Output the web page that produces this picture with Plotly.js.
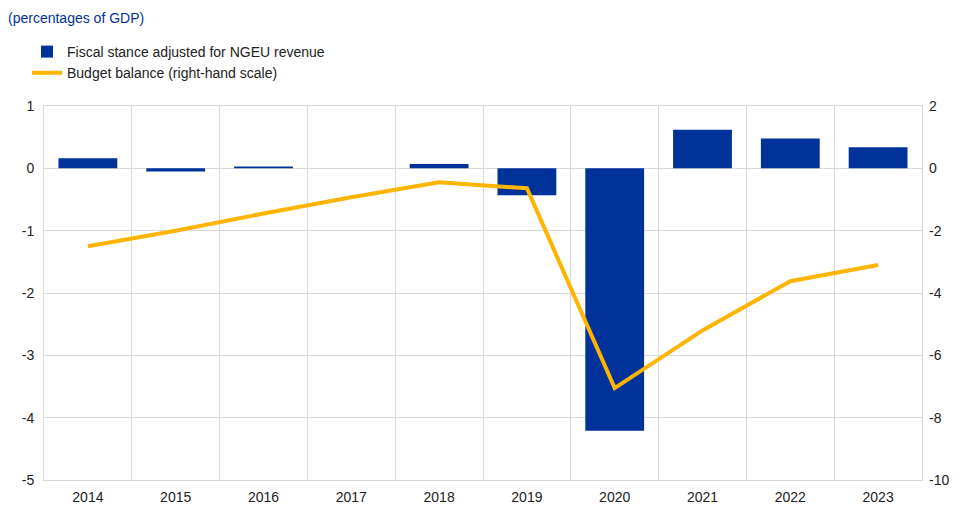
<!DOCTYPE html>
<html>
<head>
<meta charset="utf-8">
<script src="https://cdn.plot.ly/plotly-3.0.1.min.js"></script>
<style>html,body{margin:0;padding:0;background:#fff;}#chart{width:963px;height:507px;}</style>
</head>
<body>
<div id="chart"></div>
<script>
const years = ['2014','2015','2016','2017','2018','2019','2020','2021','2022','2023'];
const fiscalStance = [0.16, -0.05, 0.03, 0.0, 0.07, -0.43, -4.21, 0.62, 0.48, 0.34];
const budgetBalance = [-2.5, -2.0, -1.45, -0.93, -0.45, -0.64, -7.05, -5.2, -3.62, -3.1];
const leftTickVals = [1, 0, -1, -2, -3, -4, -5];
const leftTickText = ['1', '0', '-1', '-2', '-3', '-4', '-5'];
const rightTickVals = [2, 0, -2, -4, -6, -8, -10];
const rightTickText = ['2', '0', '-2', '-4', '-6', '-8', '-10'];

const traces = [
  {
    type: 'bar', x: years, y: fiscalStance, name: 'Fiscal stance adjusted for NGEU revenue',
    marker: {color: '#003299', line: {width: 0}},
    width: 0.67, yaxis: 'y'
  },
  {
    type: 'scatter', mode: 'lines', x: years, y: budgetBalance, name: 'Budget balance (right-hand scale)',
    line: {color: '#FFB400', width: 4}, yaxis: 'y2'
  }
];

const layout = {
  width: 963, height: 507,
  margin: {l: 44, r: 41, t: 106, b: 27, autoexpand: false},
  paper_bgcolor: '#fff', plot_bgcolor: '#fff',
  font: {family: 'Liberation Sans, Arial, sans-serif', size: 14, color: '#222'},
  title: {text: '(percentages of GDP)', font: {size: 14, color: '#003299'},
          xref: 'container', yref: 'container', x: 8/963, xanchor: 'left', y: 1 - 18/507, yanchor: 'middle'},
  showlegend: true,
  legend: {xref: 'container', yref: 'container', x: 27/963, y: 1 - 36/507, xanchor: 'left', yanchor: 'top',
           font: {size: 14, color: '#222'}, tracegroupgap: 0, itemwidth: 30, bgcolor: 'rgba(0,0,0,0)'},
  xaxis: {type: 'category', tickson: 'boundaries', showgrid: true, gridcolor: '#d9d9d9', gridwidth: 1,
          ticks: '', showline: true, linecolor: '#d9d9d9', linewidth: 1, mirror: true,
          zeroline: false, tickfont: {size: 14}, range: [-0.5, 9.5], ticklabelstandoff: 4},
  yaxis: {range: [-5, 1], tickmode: 'array', tickvals: leftTickVals, ticktext: leftTickText,
          showgrid: true, gridcolor: '#d9d9d9', gridwidth: 1,
          zeroline: true, zerolinecolor: '#d9d9d9', zerolinewidth: 1, ticks: '',
          showline: true, linecolor: '#d9d9d9', linewidth: 1, mirror: true,
          tickfont: {size: 14}, ticklabelstandoff: 6},
  yaxis2: {range: [-10, 2], tickmode: 'array', tickvals: rightTickVals, ticktext: rightTickText,
           overlaying: 'y', side: 'right', showgrid: false, zeroline: false,
           ticks: '', showline: false, tickfont: {size: 14}, ticklabelstandoff: 6},
  bargap: 0.33
};

Plotly.newPlot('chart', traces, layout, {displayModeBar: false, staticPlot: true});
</script>
</body>
</html>
